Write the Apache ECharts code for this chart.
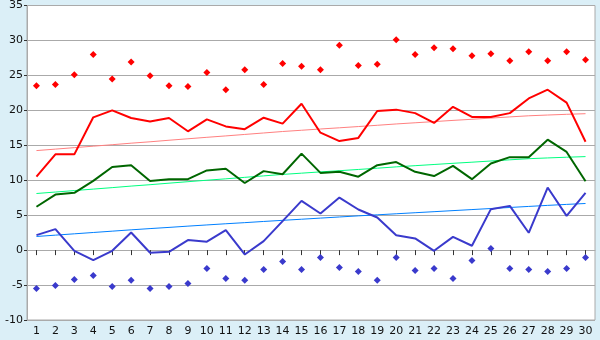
<!DOCTYPE html>
<html><head><meta charset="utf-8">
<script src="https://cdn.jsdelivr.net/npm/echarts@6/dist/echarts.min.js"></script>
<style>html,body{margin:0;padding:0;background:#dbeff7}#c{width:600px;height:340px}</style>
</head><body><div id="c"></div>
<script>
var categories = ['1','2','3','4','5','6','7','8','9','10','11','12','13','14','15','16','17','18','19','20','21','22','23','24','25','26','27','28','29','30'];
var maxLine = [10.5,13.7,13.7,19.0,20.0,18.9,18.4,18.9,17.0,18.7,17.7,17.3,18.95,18.1,20.95,16.8,15.6,16.05,19.9,20.1,19.6,18.2,20.5,19.05,19.05,19.6,21.7,22.95,21.1,15.5];
var meanLine = [6.2,7.95,8.2,9.9,11.9,12.15,9.9,10.15,10.15,11.4,11.65,9.6,11.3,10.85,13.8,11.05,11.2,10.5,12.15,12.6,11.2,10.6,12.05,10.15,12.4,13.3,13.3,15.8,14.05,9.85];
var minLine = [2.15,3.0,-0.1,-1.43,-0.1,2.52,-0.38,-0.24,1.43,1.2,2.86,-0.62,1.29,4.14,7.05,5.24,7.52,5.81,4.67,2.14,1.67,-0.1,1.9,0.62,5.86,6.33,2.48,8.95,4.9,8.19];
var absMax = [23.5,23.7,25.1,28.0,24.5,26.9,24.95,23.5,23.4,25.4,22.95,25.8,23.7,26.7,26.3,25.8,29.3,26.4,26.6,30.1,28.0,28.95,28.8,27.8,28.1,27.1,28.4,27.1,28.4,27.25];
var absMin = [-5.48,-5.05,-4.19,-3.62,-5.19,-4.33,-5.48,-5.19,-4.76,-2.62,-4.05,-4.33,-2.76,-1.62,-2.76,-1.05,-2.48,-3.05,-4.33,-1.05,-2.9,-2.62,-4.05,-1.48,0.24,-2.62,-2.76,-3.05,-2.62,-1.05];
var maxTrend = [14.24,14.45,14.66,14.87,15.08,15.3,15.5,15.72,15.93,16.14,16.34,16.55,16.76,16.97,17.15,17.33,17.5,17.68,17.86,18.05,18.22,18.39,18.56,18.72,18.89,19.06,19.22,19.33,19.43,19.52];
var meanTrend = [8.1,8.31,8.52,8.73,8.94,9.16,9.36,9.58,9.79,10.0,10.2,10.41,10.62,10.83,11.01,11.19,11.36,11.54,11.72,11.91,12.08,12.25,12.42,12.58,12.75,12.92,13.08,13.19,13.29,13.38];
var minTrend = [1.95,2.14,2.33,2.52,2.71,2.9,3.08,3.25,3.43,3.6,3.77,3.93,4.1,4.26,4.42,4.58,4.74,4.9,5.05,5.2,5.35,5.5,5.65,5.8,5.95,6.1,6.25,6.4,6.54,6.67];

var chart = echarts.init(document.getElementById('c'));
function line(data, color, width, z) {
  return {type:'line', data:data, symbol:'none', lineStyle:{color:color, width:width}, itemStyle:{color:color}, z:z, animation:false};
}
function pts(data, color) {
  return {type:'scatter', data:data, symbol:'diamond', symbolSize:7, itemStyle:{color:color, opacity:1}, z:5, animation:false};
}
chart.setOption({
  backgroundColor:'#dbeff7',
  animation:false,
  grid:{left:27, right:5, top:5, bottom:20, show:true, backgroundColor:'#ffffff', borderColor:'#aaaaaa', borderWidth:1},
  xAxis:{type:'category', data:categories, boundaryGap:true,
    axisLine:{show:true, lineStyle:{color:'#aaaaaa'}},
    axisTick:{show:true, alignWithLabel:true, length:5, lineStyle:{color:'#333333'}},
    axisLabel:{color:'#111', fontFamily:'DejaVu Sans', fontSize:11, margin:6, interval:0},
    splitLine:{show:false}},
  yAxis:{type:'value', min:-10, max:35, interval:5,
    axisLine:{show:true, lineStyle:{color:'#aaaaaa'}},
    axisTick:{show:true, length:3, lineStyle:{color:'#333333'}},
    axisLabel:{color:'#111', fontFamily:'DejaVu Sans', fontSize:11, margin:4},
    splitLine:{show:true, lineStyle:{color:'#aaaaaa', width:1}}},
  series:[
    line(maxTrend,'#ff8080',1,2),
    line(meanTrend,'#00ff80',1,2),
    line(minTrend,'#0080ff',1,2),
    line(maxLine,'#ff0000',2,3),
    line(meanLine,'#006600',2,3),
    line(minLine,'#3a3acc',2,3),
    pts(absMax,'#ff0000'),
    pts(absMin,'#3a3acc')
  ]
});
</script></body></html>
